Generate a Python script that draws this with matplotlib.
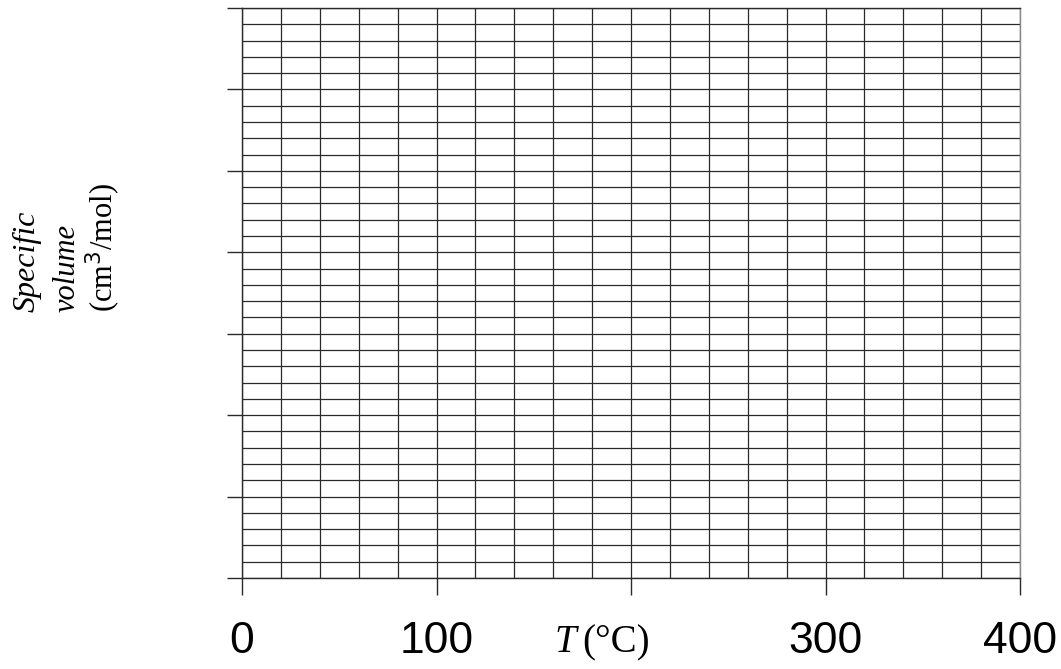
import matplotlib
matplotlib.use("Agg")
import matplotlib.pyplot as plt

# Data (blank graph paper)
x_ticks = [0, 100, 200, 300, 400]
x_tick_labels = ["0", "100", "", "300", "400"]
x_grid = list(range(0, 401, 20))
y_ticks = [0, 5, 10, 15, 20, 25, 30, 35]
y_grid = list(range(0, 36, 1))
x_label_var = "T"
x_label_unit = "(°C)"
y_label_lines = ["Specific", "volume", "(cm$^3$/mol)"]

W, H = 1061, 669
fig = plt.figure(figsize=(W / 100, H / 100), dpi=100)
left, right, top, bottom = 242, 1020, 8, 578
ax = fig.add_axes([left / W, 1 - bottom / H, (right - left) / W, (bottom - top) / H])

ax.set_xlim(0, 400)
ax.set_ylim(0, 35)

gc = "#2a2a2a"
for xv in x_grid:
    ax.axvline(xv, color=gc, lw=0.9, zorder=1)
for yv in y_grid:
    ax.axhline(yv, color=gc, lw=0.9, zorder=1)

for s in ax.spines.values():
    s.set_color(gc)
    s.set_linewidth(1.0)
ax.spines["right"].set_color("#888888")

ax.set_xticks(x_ticks)
ax.set_xticklabels(x_tick_labels, fontfamily="Liberation Sans", fontsize=32)
ax.set_yticks(y_ticks)
ax.set_yticklabels([])
ax.tick_params(axis="x", direction="out", length=12, width=1.0, pad=19, color=gc)
ax.tick_params(axis="y", direction="out", length=11, width=1.0, color=gc)

# x-axis title placed in the slot of the 200 tick label
base_y = 1 - 652 / H
fig.text(554 / W, base_y, x_label_var, ha="left", va="baseline",
         fontfamily="Liberation Serif", fontstyle="italic", fontsize=28)
fig.text(650 / W, base_y, x_label_unit, ha="right", va="baseline",
         fontfamily="Liberation Serif", fontsize=28)

# y-axis title: three rotated lines, bottom aligned
xs = [27, 67, 103]
sizes = [23, 22, 22]
styles = ["italic", "italic", "normal"]
for xp, txt, st, fs in zip(xs, y_label_lines, styles, sizes):
    fig.text(xp / W, 1 - 312 / H, txt, rotation=90, ha="center", va="bottom",
             fontfamily="Liberation Serif", fontstyle=st, fontsize=fs)

fig.savefig("out.png", dpi=100)
